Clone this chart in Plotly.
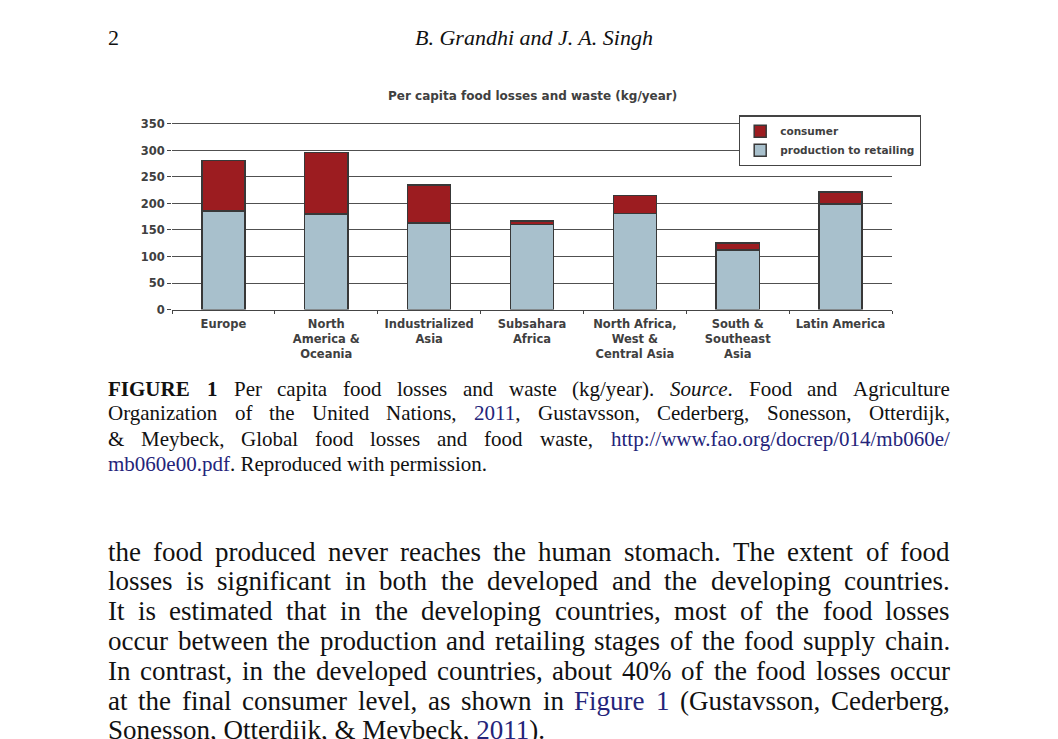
import re
import plotly.graph_objects as go

# Per capita food losses and waste (kg/year)
regions = [
    "Europe",
    "North<br>America &<br>Oceania",
    "Industrialized<br>Asia",
    "Subsahara<br>Africa",
    "North Africa,<br>West &<br>Central Asia",
    "South &<br>Southeast<br>Asia",
    "Latin America",
]
production_to_retailing = [186, 180, 163, 160, 181, 112, 199]
consumer = [95, 116, 72, 7, 34, 13, 23]
y_ticks = [0, 50, 100, 150, 200, 250, 300, 350]

header_left = "2"
header_center = "<i>B. Grandhi and J. A. Singh</i>"
chart_title = "Per capita food losses and waste (kg/year)"

# {...} marks link-coloured words
caption_lines = [
    "<b>FIGURE</b> <b>1</b> Per capita food losses and waste (kg/year). <i>Source</i>. Food and Agriculture",
    "Organization of the United Nations, {2011}, Gustavsson, Cederberg, Sonesson, Otterdijk,",
    "& Meybeck, Global food losses and food waste, {http://www.fao.org/docrep/014/mb060e/}",
    "{mb060e00.pdf}. Reproduced with permission.",
]
body_lines = [
    "the food produced never reaches the human stomach. The extent of food",
    "losses is significant in both the developed and the developing countries.",
    "It is estimated that in the developing countries, most of the food losses",
    "occur between the production and retailing stages of the food supply chain.",
    "In contrast, in the developed countries, about 40% of the food losses occur",
    "at the final consumer level, as shown in {Figure} {1} (Gustavsson, Cederberg,",
    "Sonesson, Otterdijk, & Meybeck, {2011}).",
]

W, H = 1058, 739
OFF = 8  # default body margin of the html page
RED = "#9c1c20"
GREY_BLUE = "#a8c0cc"
EDGE = "#383838"
BLUE = "#24247a"
INK = "#111111"
SANS = "DejaVu Sans, Verdana, sans-serif"
SERIF = "Liberation Serif, Times New Roman, serif"
CHART_FONT = dict(family=SANS, size=11.5, color="#404040", weight="bold")

# Times / Liberation Serif advance widths (1/1000 em), used to justify the text lines
_w = {}
_w.update(zip("abcdefghijklmnopqrstuvwxyz",
              [444, 500, 444, 500, 444, 333, 500, 500, 278, 278, 500, 278, 778,
               500, 500, 500, 500, 333, 389, 278, 500, 500, 722, 500, 500, 444]))
_w.update(zip("ABCDEFGHIJKLMNOPQRSTUVWXYZ",
              [722, 667, 667, 722, 611, 556, 722, 722, 333, 389, 722, 611, 889,
               722, 722, 556, 722, 667, 556, 611, 722, 722, 944, 722, 722, 611]))
_w.update({c: 500 for c in "0123456789"})
_w.update({" ": 250, ",": 250, ".": 250, "(": 333, ")": 333, "/": 278, ":": 278,
           "&": 778, "%": 833, "-": 333})


def text_width(word, size):
    plain = re.sub(r"<[^>]+>|[{}]", "", word)
    w = sum(_w.get(c, 500) for c in plain) * size / 1000
    return w * 1.1 if "<b>" in word else w


def colorize(word):
    return word.replace("{", f"<span style='color:{BLUE}'>").replace("}", "</span>")


def px_x(x):
    return (x - OFF) / W


def px_y(y):
    return 1 - (y - OFF) / H


def text_line(line, y, size, left=108, right=950, justify=True):
    font = dict(family=SERIF, size=size, color=INK)
    if not justify:
        return [dict(text=colorize(line), x=px_x(left), y=px_y(y),
                     xanchor="left", yanchor="middle", font=font)]
    words = line.split(" ")
    widths = [text_width(wd, size) for wd in words]
    gap = (right - left - sum(widths)) / (len(words) - 1)
    out = []
    x = left
    for i, (wd, wdt) in enumerate(zip(words, widths)):
        last = i == len(words) - 1
        out.append(dict(text=colorize(wd), x=px_x(right if last else x), y=px_y(y),
                        xanchor="right" if last else "left", yanchor="middle", font=font))
        x += wdt + gap
    return out


fig = go.Figure()

fig.add_trace(go.Bar(
    x=regions, y=production_to_retailing,
    name="production to retailing",
    marker=dict(color=GREY_BLUE, line=dict(color=EDGE, width=1.5)),
))
fig.add_trace(go.Bar(
    x=regions, y=consumer,
    name="consumer",
    marker=dict(color=RED, line=dict(color=EDGE, width=1.5)),
))

# the chart sits inside a page, so axes are placed with pixel-derived domains
fig.update_layout(
    width=W, height=H,
    margin=dict(l=0, r=0, t=0, b=0),
    paper_bgcolor="white",
    plot_bgcolor="white",
    barmode="stack",
    bargap=0.58,
    showlegend=True,
    legend=dict(
        x=px_x(739), y=px_y(113), xanchor="left", yanchor="top",
        bgcolor="white", bordercolor="#444", borderwidth=1.2,
        traceorder="reversed",
        font=dict(family=SANS, size=10.5, color="#404040", weight="bold"),
    ),
    xaxis=dict(
        domain=[px_x(172), px_x(892)],
        showline=True, linecolor="#444", linewidth=1.2,
        ticks="outside", ticklen=3, tickcolor="#444",
        tickson="boundaries",
        ticklabelstandoff=4,
        showgrid=False,
        tickfont=CHART_FONT,
        fixedrange=True,
    ),
    yaxis=dict(
        domain=[px_y(310), px_y(119)],
        range=[0, 355],
        tickvals=y_ticks,
        showgrid=True, gridcolor="#505050", gridwidth=1.3,
        zeroline=False,
        showline=False,
        ticks="outside", ticklen=4, tickcolor="#444",
        tickfont=CHART_FONT,
        fixedrange=True,
    ),
)

annotations = [
    dict(text=header_left, x=px_x(108), y=px_y(34), xanchor="left", yanchor="middle",
         font=dict(family=SERIF, size=22, color=INK)),
    dict(text=header_center, x=px_x(534), y=px_y(34), xanchor="center", yanchor="middle",
         font=dict(family=SERIF, size=22, color=INK)),
    dict(text=chart_title, x=px_x(532), y=px_y(93), xanchor="center", yanchor="middle",
         font=dict(family=SANS, size=12, color="#404040", weight="bold")),
]

caption_y = [391, 415, 441, 467]
for i, (line, yy) in enumerate(zip(caption_lines, caption_y)):
    annotations += text_line(line, yy, 21, justify=i < len(caption_lines) - 1)

body_y = [556, 586, 616, 647, 677, 707, 737]
for i, (line, yy) in enumerate(zip(body_lines, body_y)):
    annotations += text_line(line, yy, 27, justify=i < len(body_lines) - 1)

for a in annotations:
    a.update(xref="paper", yref="paper", showarrow=False, borderpad=0, borderwidth=0)
fig.update_layout(annotations=annotations)

fig.write_html("out.html")
